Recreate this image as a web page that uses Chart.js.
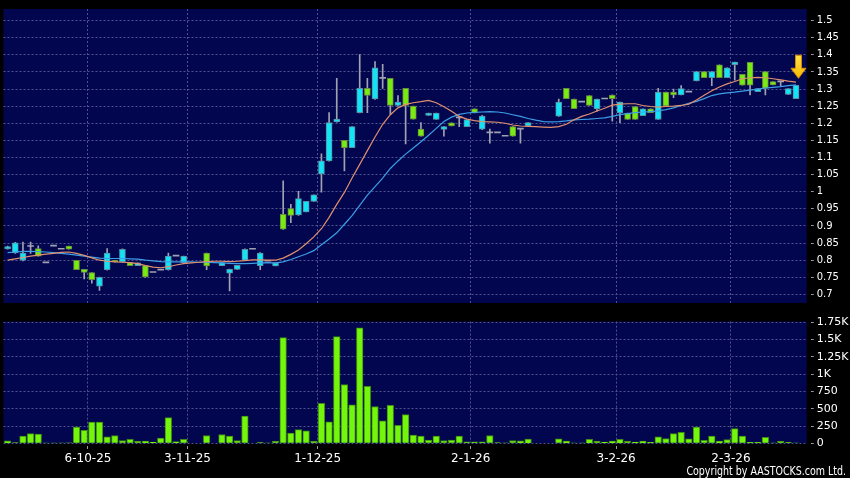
<!DOCTYPE html>
<html><head><meta charset="utf-8">
<script src="https://cdn.jsdelivr.net/npm/chart.js@4.4.1/dist/chart.umd.min.js"></script>
<style>
html,body{margin:0;padding:0;background:#000;width:850px;height:478px;overflow:hidden;}
#wrap{position:relative;width:850px;height:478px;}
#cp{position:absolute;left:0;top:0;}
#cv{position:absolute;left:0;top:312px;}
#copy{position:absolute;right:4px;top:464px;color:#fff;font:12px "DejaVu Sans";line-height:14px;transform:scaleX(0.79);transform-origin:right top;white-space:nowrap;}
</style></head><body>
<div id="wrap">
<canvas id="cp" width="850" height="312"></canvas>
<canvas id="cv" width="850" height="166"></canvas>
<div id="copy">Copyright by AASTOCKS.com Ltd.</div>
</div>
<script>
// ---- data (one entry per trading bar; null = no trade) ----
const open  = [0.833,0.821,0.800,0.840,0.834,0.792,0.841,0.832,0.841,0.800,0.773,0.764,0.724,0.772,0.800,0.795,0.793,0.784,0.784,0.764,0.771,0.772,0.812,0.793,null,null,0.821,null,0.784,0.762,0.773,0.800,0.832,0.784,0.797,0.783,
0.934,0.951,0.932,0.941,0.972,1.052,1.090,1.204,1.150,1.129,1.231,1.302,1.271,1.331,1.331,1.252,1.302,1.250,1.183,1.223,1.211,1.182,1.201,1.216,1.190,1.242,1.183,1.172,1.172,1.162,1.190,1.183,1.192,null,null,null,
1.221,1.302,1.271,1.262,1.281,1.242,1.271,1.282,1.230,1.230,1.249,1.222,1.242,1.211,1.291,1.291,1.283,1.291,1.324,1.351,1.333,1.371,1.333,1.371,1.343,1.378,1.292,1.351,1.322,1.321,1.284,1.272];
const high  = [0.841,0.852,0.853,0.853,0.842,0.792,0.841,0.832,0.841,0.800,0.773,0.764,0.751,0.834,0.800,0.833,0.793,0.792,0.785,0.764,0.771,0.821,0.812,0.812,null,null,0.821,null,0.793,0.774,0.785,0.833,0.832,0.822,0.797,0.792,
1.032,0.963,1.001,0.972,0.991,1.111,1.231,1.331,1.150,1.190,1.401,1.331,1.380,1.372,1.331,1.281,1.302,1.250,1.202,1.230,1.230,1.190,1.201,1.221,1.211,1.242,1.223,1.183,1.172,1.162,1.190,1.183,1.202,null,null,null,
1.271,1.302,1.271,1.262,1.281,1.271,1.271,1.283,1.262,1.230,1.249,1.242,1.242,1.302,1.291,1.300,1.310,1.291,1.351,1.351,1.351,1.371,1.362,1.379,1.343,1.378,1.301,1.351,1.322,1.321,1.301,1.311];
const low   = [0.832,0.820,0.798,0.820,0.812,0.792,0.841,0.832,0.832,0.772,0.745,0.733,0.712,0.771,0.795,0.794,0.784,0.784,0.750,0.764,0.771,0.771,0.812,0.793,null,null,0.772,null,0.784,0.710,0.773,0.799,0.832,0.772,0.797,0.783,
0.890,0.910,0.931,0.941,0.972,0.999,1.089,1.203,1.061,1.129,1.230,1.231,1.270,1.302,1.226,1.250,1.140,1.212,1.162,1.223,1.211,1.162,1.192,1.190,1.190,1.230,1.181,1.142,1.172,1.162,1.162,1.142,1.192,null,null,null,
1.220,1.272,1.243,1.262,1.252,1.235,1.271,1.206,1.202,1.211,1.211,1.222,1.231,1.211,1.251,1.275,1.283,1.291,1.324,1.333,1.310,1.333,1.333,1.326,1.311,1.283,1.292,1.283,1.312,1.310,1.284,1.272];
const close = [0.840,0.851,0.821,0.840,0.812,0.792,0.841,0.832,0.832,0.772,0.764,0.743,0.750,0.821,0.795,0.832,0.784,0.792,0.751,0.764,0.771,0.812,0.812,0.812,null,null,0.783,null,0.793,0.773,0.785,0.832,0.832,0.821,0.797,0.792,
0.891,0.931,0.980,0.972,0.991,1.090,1.202,1.212,1.129,1.190,1.302,1.281,1.362,1.331,1.252,1.262,1.252,1.212,1.162,1.230,1.230,1.190,1.192,1.216,1.211,1.230,1.221,1.172,1.172,1.162,1.162,1.183,1.202,null,null,null,
1.262,1.272,1.243,1.262,1.252,1.271,1.271,1.272,1.262,1.211,1.211,1.242,1.231,1.291,1.251,1.283,1.301,1.291,1.351,1.333,1.351,1.333,1.362,1.379,1.311,1.311,1.301,1.302,1.312,1.321,1.301,1.311];
const volume = [35,12,103,141,132,2,2,6,8,235,188,306,306,94,113,38,56,28,33,19,75,372,24,56,0,0,113,0,127,103,38,395,0,10,5,28,
1529,146,198,179,28,579,311,1543,851,555,1670,823,532,325,550,259,414,118,103,45,103,40,45,103,20,20,20,113,12,3,40,35,62,0,0,0,
66,33,5,3,57,28,19,33,57,28,19,33,15,94,70,141,160,66,235,42,103,33,52,212,103,15,15,85,3,28,14,5];
const ma10 = [0.800,0.804,0.808,0.812,0.815,0.818,0.820,0.823,0.824,0.820,0.814,0.807,0.800,0.797,0.795,0.794,0.793,0.790,0.784,0.780,0.778,0.781,0.786,0.790,0.792,0.794,0.796,0.797,0.797,0.796,0.797,0.799,0.801,0.801,0.800,
0.800,0.806,0.817,0.830,0.848,0.868,0.892,0.925,0.963,0.998,1.040,1.080,1.120,1.160,1.197,1.225,1.245,1.255,1.260,1.263,1.267,1.260,1.248,1.235,1.220,1.212,1.208,1.205,1.204,1.203,1.200,1.195,1.192,1.191,1.190,1.189,1.188,1.190,1.197,1.210,1.220,1.227,1.236,1.244,1.253,1.256,1.257,1.257,1.252,1.249,1.247,1.249,1.250,1.252,1.256,1.268,1.282,1.295,1.306,1.315,1.322,1.330,1.333,1.334,1.333,1.330,1.327,1.323,1.320];
const ma20 = [0.822,0.824,0.826,0.826,0.825,0.824,0.822,0.820,0.818,0.815,0.812,0.809,0.806,0.805,0.805,0.805,0.804,0.803,0.800,0.798,0.796,0.795,0.795,0.795,0.795,0.794,0.794,0.793,0.792,0.791,0.790,0.790,0.791,0.792,0.793,
0.792,0.795,0.802,0.810,0.818,0.828,0.845,0.862,0.880,0.905,0.930,0.960,0.990,1.015,1.040,1.068,1.090,1.110,1.128,1.146,1.165,1.185,1.205,1.218,1.226,1.230,1.232,1.233,1.234,1.233,1.230,1.225,1.220,1.214,1.209,1.205,1.204,1.205,1.207,1.210,1.211,1.212,1.214,1.216,1.220,1.225,1.228,1.231,1.233,1.234,1.236,1.240,1.245,1.252,1.258,1.264,1.272,1.281,1.286,1.289,1.291,1.294,1.297,1.300,1.303,1.305,1.307,1.310,1.312];
const priceTicks = [0.7,0.75,0.8,0.85,0.9,0.95,1,1.05,1.1,1.15,1.2,1.25,1.3,1.35,1.4,1.45,1.5];
const volTicks = [0,250,500,750,1000,1250,1500,1750];
const dateLabels = ['6-10-25','3-11-25','1-12-25','2-1-26','3-2-26','2-3-26'];
const dateBars = [11,24,41,61,80,95];

// ---- styles ----
const NAVY='#02064f', GRID='#50528e', TICKC='#9a9aa8';
const CYAN='#12e4f6', CYAN_B='#5a8ea4', LIME='#78ec12', LIME_B='#6a8a3c', GRAY='#a0a2b2';
const VOL='#74f50c', VOL_B='#3f8a12', ORANGE='#e0906e', BLUE='#3c9ee6';
const AXW = 43.3;
Chart.defaults.font.family = '"DejaVu Sans"';
Chart.defaults.color = '#ffffff';

const N = close.length;
const xMin = -0.54, xMax = 104.4;
const bodyData=[], wickData=[];
for(let i=0;i<N;i++){
  if(close[i]==null) continue;
  bodyData.push({x:i,y:[open[i],close[i]]});
  if(high[i]>low[i]) wickData.push({x:i,y:[low[i],high[i]]});
}
function dir(ctx){ if(!ctx.raw) return 1; const i=ctx.raw.x; return close[i]>open[i]?1:(close[i]<open[i]?-1:0); }

const bg = {id:'bg', beforeDraw(c){const a=c.chartArea,ctx=c.ctx;ctx.save();ctx.fillStyle=NAVY;ctx.fillRect(a.left,a.top,a.right-a.left,a.bottom-a.top);ctx.restore();}};
const arrow = {id:'arrow', afterDatasetsDraw(c){
  let last=N-1; while(last>0 && close[last]==null) last--;
  const x=c.scales.x.getPixelForValue(last)+2.5, tip=c.scales.y.getPixelForValue(high[last])-7;
  const ctx=c.ctx; ctx.save();
  ctx.beginPath();
  ctx.moveTo(x,tip); ctx.lineTo(x-7.5,tip-10); ctx.lineTo(x-3,tip-10); ctx.lineTo(x-3,tip-23);
  ctx.lineTo(x+3,tip-23); ctx.lineTo(x+3,tip-10); ctx.lineTo(x+7.5,tip-10); ctx.closePath();
  const g=ctx.createLinearGradient(0,tip-23,0,tip); g.addColorStop(0,'#ffe04a'); g.addColorStop(1,'#f5b800');
  ctx.fillStyle=g; ctx.fill(); ctx.strokeStyle='#d98a00'; ctx.lineWidth=1; ctx.stroke(); ctx.restore();
}};

function xScale(showLabels){
  return {type:'linear', min:xMin, max:xMax, offset:false, position:'bottom',
    afterBuildTicks(s){ s.ticks = dateBars.map(b=>({value:b-0.5})); },
    afterFit(s){ s.height = showLabels ? 34.7 : 0; },
    grid:{color:GRID, offset:false, drawTicks:showLabels, tickLength:6, tickColor:TICKC, tickBorderDash:[3,3], tickBorderDashOffset:3},
    border:{display:false, dash:[2,2]},
    ticks:{display:showLabels, autoSkip:false, maxRotation:0, padding:2, color:'#fff', font:{size:12},
      callback:(v,i)=>dateLabels[i]}
  };
}
function yScale(vals, fmt, min, max, fs){
  return {type:'linear', position:'right', min:min, max:max,
    afterBuildTicks(s){ s.ticks = vals.map(v=>({value:v})); },
    afterFit(s){ s.width = AXW; },
    grid:{color:GRID, tickLength:7, tickColor:TICKC, tickBorderDash:[3,4], tickBorderDashOffset:3},
    border:{display:false, dash:[2,2]},
    ticks:{padding:3, color:'#fff', font:{size:fs}, callback:fmt}
  };
}

new Chart(document.getElementById('cp'), {
  type:'bar',
  data:{datasets:[
    {type:'line', data:ma10.map((v,i)=>({x:i,y:v})), borderColor:ORANGE, borderWidth:1.2, pointRadius:0, tension:0},
    {type:'line', data:ma20.map((v,i)=>({x:i,y:v})), borderColor:BLUE, borderWidth:1.2, pointRadius:0, tension:0},
    {type:'bar', data:bodyData, grouped:false, barThickness:6, minBarLength:1, borderSkipped:false,
      backgroundColor:c=>{const d=dir(c);return d>0?CYAN:(d<0?LIME:GRAY);},
      borderColor:c=>{const d=dir(c);return d>0?CYAN_B:(d<0?LIME_B:GRAY);},
      borderWidth:c=>dir(c)===0?0:1},
    {type:'bar', data:wickData, grouped:false, barThickness:1, backgroundColor:GRAY, borderWidth:0}
  ]},
  options:{responsive:false, animation:false, events:[],
    layout:{padding:{left:3.5, top:7.5, right:0, bottom:5}},
    plugins:{legend:{display:false}, tooltip:{enabled:false}},
    scales:{x:xScale(false), y:yScale(priceTicks, v=>String(+(+v).toFixed(2)), 0.675, 1.5338, 10)}
  },
  plugins:[bg, arrow]
});

new Chart(document.getElementById('cv'), {
  type:'bar',
  data:{datasets:[
    {data:volume.map((v,i)=>({x:i,y:v})), grouped:false, barThickness:6.6, borderSkipped:'start',
      backgroundColor:VOL, borderColor:VOL_B, borderWidth:1}
  ]},
  options:{responsive:false, animation:false, events:[],
    layout:{padding:{left:3.5, top:7.3, right:0, bottom:0}},
    plugins:{legend:{display:false}, tooltip:{enabled:false}},
    scales:{x:xScale(true), y:yScale(volTicks, v=>v>=1000?(v/1000)+'K':String(v), 0, 1760, 11)}
  },
  plugins:[bg]
});
</script>
</body></html>
